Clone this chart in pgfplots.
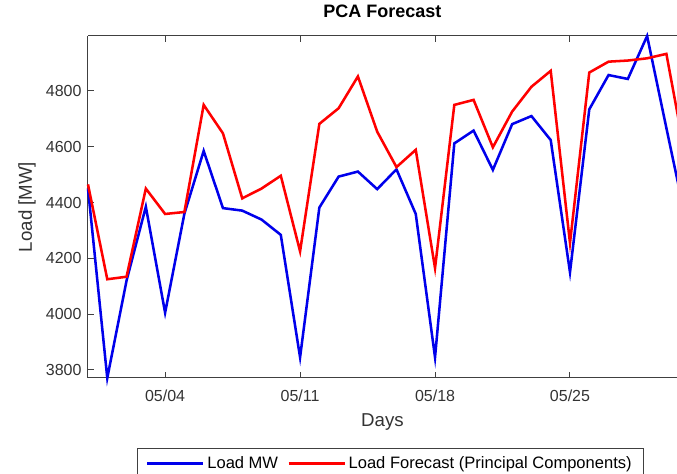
\documentclass[border=0pt]{standalone}
\usepackage{fontspec}
\setmainfont{Liberation Sans}
\usepackage{pgfplots}
\pgfplotsset{compat=1.18}
\definecolor{axgray}{gray}{0.25}
\definecolor{lblgray}{gray}{0.2}
\definecolor{lblue}{rgb}{0,0,0.92}
\definecolor{lred}{rgb}{1,0,0}
\begin{document}
\begin{tikzpicture}
\begin{axis}[name=ax, scale only axis, width=441.75pt, height=256.5pt,
  xmin=0, xmax=30.55, ymin=3771, ymax=4997, clip=false,
  axis x line*=box, axis y line*=left,
  x axis line style={-}, y axis line style={-},
  axis line style={axgray, line width=0.75pt},
  xtick={4,11,18,25}, xticklabels={05/04,05/11,05/18,05/25},
  ytick={3800,4000,4200,4400,4600,4800},
  xtick pos=both, ytick pos=left,
  tick align=inside, major tick length=4.5pt,
  tick style={axgray, line width=0.75pt},
  scaled y ticks=false,
  /pgf/number format/assume math mode=true,
  /pgf/number format/1000 sep={},
  tick label style={font=\fontsize{12}{14}\selectfont, text=lblgray},
  yticklabel style={anchor=east, inner sep=0pt, xshift=-4.7pt},
  xticklabel style={anchor=base, yshift=-18pt},
  title={PCA Forecast},
  title style={font=\fontsize{13.5}{16}\selectfont\bfseries, at={(0.5,1)}, anchor=base, yshift=7.5pt},
  xlabel={Days},
  xlabel style={font=\fontsize{14}{16}\selectfont, text=lblgray, at={(0.5,0)}, anchor=base, yshift=-36.5pt},
  ylabel={Load [MW]},
  ylabel style={font=\fontsize{14}{16}\selectfont, text=lblgray, at={(-0.1036,0.5)}, anchor=center},
  legend columns=2,
  legend image code/.code={\draw[#1] (0pt,0pt) -- (42pt,0pt);},
  legend style={at={(0.0832,-0.2047)}, anchor=north west, draw=axgray, line width=0.75pt,
    font=\fontsize{12.4}{14}\selectfont, inner xsep=6.5pt, inner ysep=4pt,
    /tikz/every even column/.append style={column sep=5pt}},
]
\addplot[lblue, line width=1.9pt] coordinates {
(0,4450) (1,3771) (2,4120) (3,4385) (4,4005) (5,4360) (6,4585) (7,4380)
(8,4371) (9,4339) (10,4284) (11,3845) (12,4382) (13,4493) (14,4511) (15,4448)
(16,4519) (17,4359) (18,3845) (19,4612) (20,4658) (21,4517) (22,4681) (23,4710)
(24,4624) (25,4150) (26,4734) (27,4857) (28,4843) (29,4997) (30,4667) (31,4340)
};
\addlegendentry{Load MW}
\addplot[lred, line width=1.9pt] coordinates {
(0,4465) (1,4125) (2,4134) (3,4450) (4,4359) (5,4366) (6,4750) (7,4648)
(8,4415) (9,4450) (10,4496) (11,4225) (12,4682) (13,4738) (14,4852) (15,4654)
(16,4527) (17,4589) (18,4165) (19,4750) (20,4768) (21,4598) (22,4726) (23,4815)
(24,4872) (25,4255) (26,4866) (27,4905) (28,4909) (29,4917) (30,4933) (31,4560)
};
\addlegendentry{Load Forecast (Principal Components)}
\end{axis}
\pgfresetboundingbox
\useasboundingbox ([xshift=-66pt,yshift=-72pt]ax.south west) rectangle ([yshift=27pt]ax.north east);
\end{tikzpicture}
\end{document}
